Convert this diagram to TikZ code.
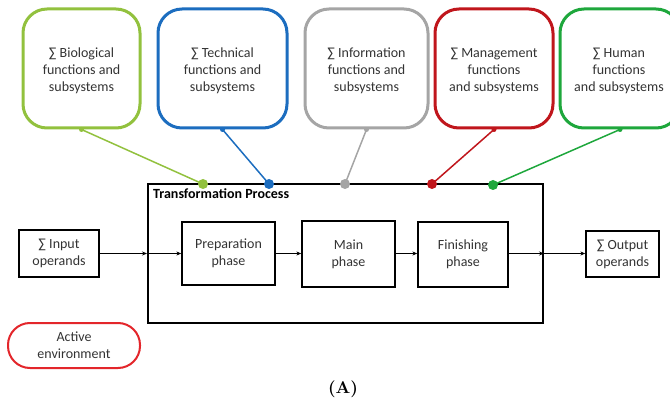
\documentclass[tikz,border=0pt]{standalone}
\usepackage{fontspec}
\setmainfont{Carlito}
\newfontfamily\capfont[Extension=.otf, BoldFont=lmroman10-bold]{lmroman10-regular}
\usetikzlibrary{arrows.meta}
\definecolor{cbio}{HTML}{92C13E}
\definecolor{ctech}{HTML}{1C6DBF}
\definecolor{cinfo}{HTML}{A5A5A5}
\definecolor{cmgmt}{HTML}{C0161C}
\definecolor{chuman}{HTML}{1EA73C}
\definecolor{cactive}{HTML}{E3262B}
\definecolor{ctext}{HTML}{333333}
\begin{document}
\begin{tikzpicture}[x=1pt,y=-1pt,
  font=\fontsize{14}{17}\selectfont,
  subsys/.style={draw, rectangle, rounded corners=24pt, line width=3pt,
    inner sep=0pt, minimum height=119pt},
  subtext/.style={align=center, text=ctext, inner sep=0pt},
  phasebox/.style={draw, rectangle, line width=1.3pt, align=center,
    text=ctext, inner sep=0pt},
  link/.style={line width=1.5pt},
  flow/.style={line width=1.2pt, -{Stealth[length=5pt,width=4pt]}},
  bigdot/.style={circle, inner sep=0pt, minimum size=10pt},
  smalldot/.style={circle, inner sep=0pt, minimum size=5pt}]
\useasboundingbox (0,0) rectangle (670,401);

% subsystem boxes
\node[subsys, cbio, minimum width=117pt] (bio) at (81.5,68.5) {};
\node[subsys, ctech, minimum width=129pt] (tech) at (222.5,68.5) {};
\node[subsys, cinfo, minimum width=123pt] (info) at (366.5,68.5) {};
\node[subsys, cmgmt, minimum width=118pt] (mgmt) at (494,68.5) {};
\node[subsys, chuman, minimum width=120pt] (human) at (620,68.5) {};

% their captions, set a little below the box centres
\node[subtext] (biotext) at (81.5,71)
  {∑ Biological\\functions and\\subsystems};
\node[subtext] (techtext) at (222.5,71)
  {∑ Technical\\functions and\\subsystems};
\node[subtext] (infotext) at (366.5,71)
  {∑ Information\\functions and\\subsystems};
\node[subtext] (mgmttext) at (494,71)
  {∑ Management\\functions\\and subsystems};
\node[subtext] (humantext) at (619,71)
  {∑ Human\\functions\\and subsystems};

% transformation process frame
\node[draw, rectangle, line width=2pt, minimum width=395pt, minimum height=139pt,
  inner sep=0pt] (proc) at (345.5,253.5) {};
\node[anchor=west, font=\fontsize{14}{16}\selectfont\bfseries, inner sep=0pt]
  (proclabel) at (153,194) {Transformation Process};

% attachment points on the frame
\coordinate (dbio) at (203,184);
\coordinate (dtech) at (269,184);
\coordinate (dinfo) at (345,184);
\coordinate (dmgmt) at (432,184);
\coordinate (dhuman) at (493,185);

\foreach \s/\d/\c in {bio/dbio/cbio, tech/dtech/ctech, info/dinfo/cinfo,
                      mgmt/dmgmt/cmgmt, human/dhuman/chuman}{
  \draw[link, \c] (\s.south) -- (\d);
  \node[smalldot, fill=\c] at (\s.south) {};
  \node[bigdot, fill=\c] at (\d) {};
}

% phases and operands
\node[phasebox, minimum width=80pt, minimum height=47pt] (inp) at (59,253.5)
  {∑ Input\\operands};
\node[phasebox, minimum width=93pt, minimum height=63pt] (prep) at (228.5,253.5)
  {Preparation\\phase};
\node[phasebox, minimum width=93pt, minimum height=66pt] (main) at (348.5,254)
  {Main\\phase};
\node[phasebox, minimum width=90pt, minimum height=65pt] (fin) at (463,254.5)
  {Finishing\\phase};
\node[phasebox, minimum width=73pt, minimum height=46pt] (outp) at (622.5,254)
  {∑ Output\\operands};

\coordinate (pin) at (proc.west |- inp.east);
\coordinate (pout) at (proc.east |- inp.east);
\draw[flow] (inp.east) -- (pin);
\draw[flow] (pin) -- (prep.west |- pin);
\draw[flow] (prep.east |- pin) -- (main.west |- pin);
\draw[flow] (main.east |- pin) -- (fin.west |- pin);
\draw[flow] (fin.east |- pin) -- (pout);
\draw[flow] (pout) -- (outp.west |- pin);

% environment
\node[draw=cactive, line width=2pt, rectangle, rounded corners=22pt,
  minimum width=132pt, minimum height=45pt, align=center, text=ctext,
  inner sep=0pt] (env) at (74,345.5) {Active\\environment};

% caption
\node[font=\capfont\fontsize{17}{20}\selectfont\bfseries, inner sep=0pt] (cap)
  at (343,389) {(A)};
\end{tikzpicture}
\end{document}
